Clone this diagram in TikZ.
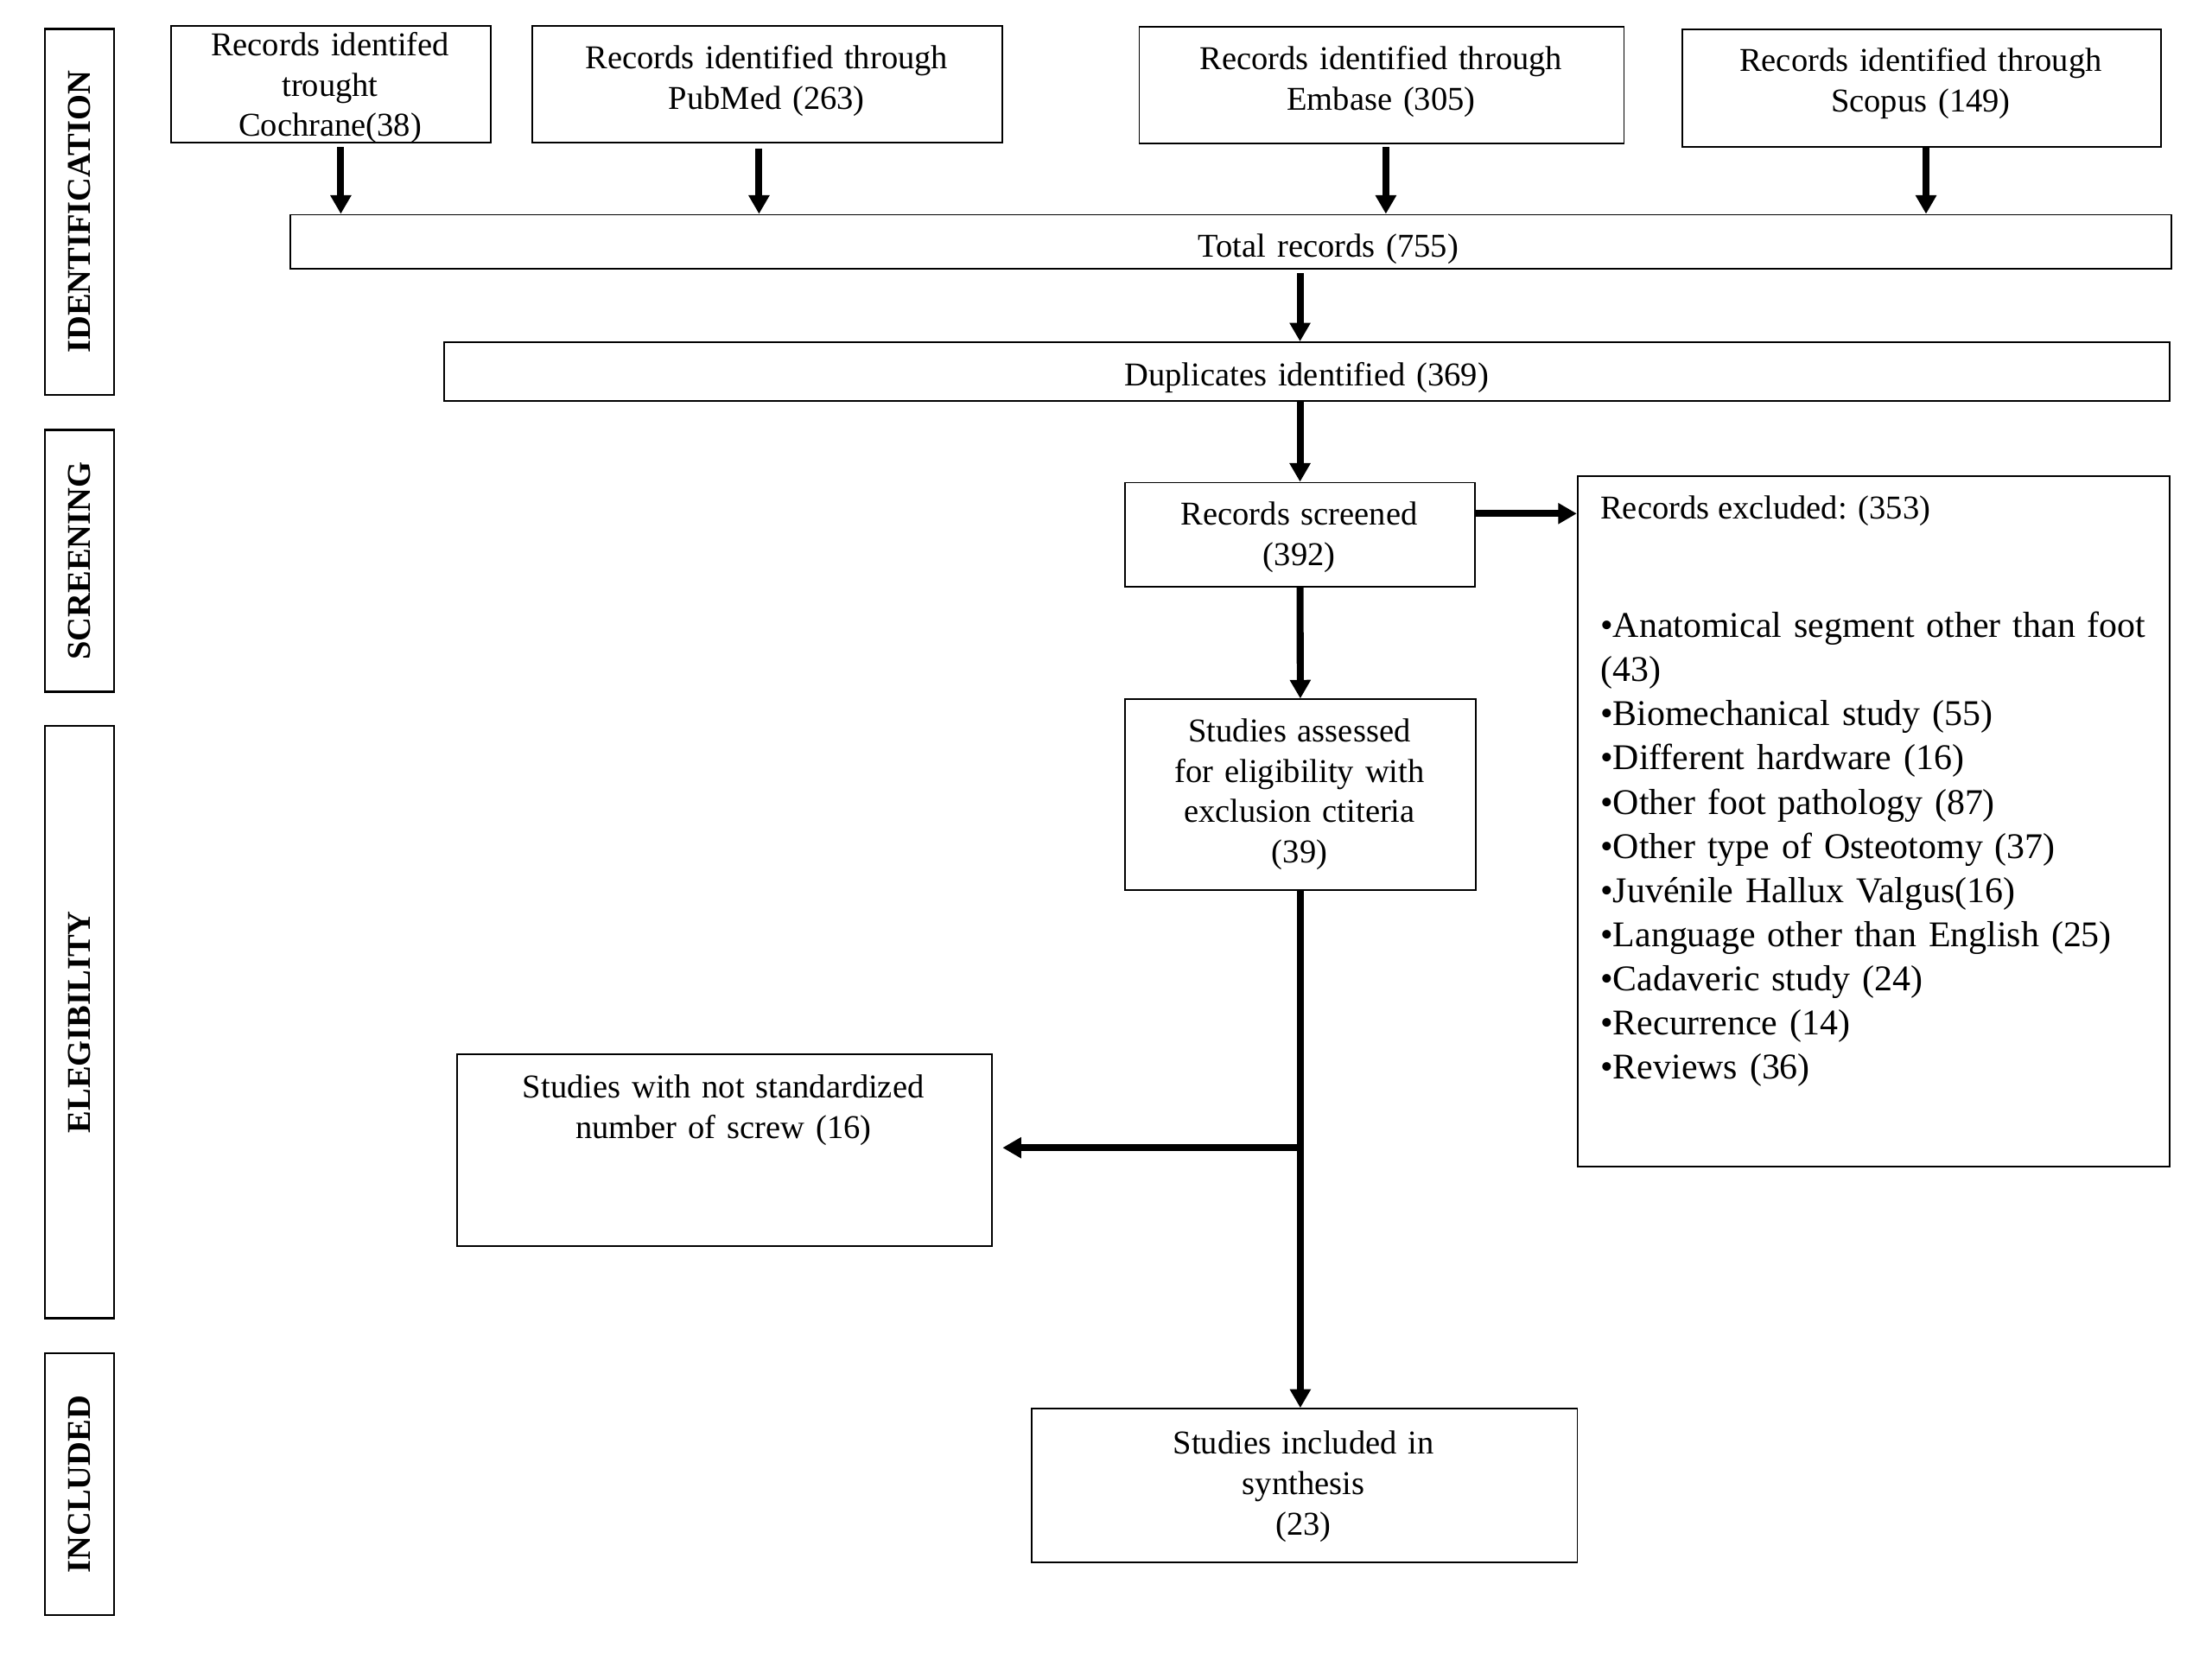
\documentclass[tikz,border=0pt]{standalone}
\usepackage{fontspec}
\setmainfont{Liberation Serif}
\usetikzlibrary{arrows.meta}
\newcommand{\mkbox}[6][box]{\node[#1, minimum width={(#5-#3)*0.4237pt}, minimum height={(#6-#4)*0.4237pt}] (#2) at (#3,#4) {};}
\begin{document}
\begin{tikzpicture}[x=0.4237pt,y=-0.4237pt,
  box/.style={draw, line width=0.5pt, rectangle, inner sep=0pt, anchor=north west},
  sidebox/.style={draw, line width=0.65pt, rectangle, inner sep=0pt, anchor=north west},
  sidetxt/.style={rotate=90, font=\fontsize{10}{12}\selectfont\bfseries, inner sep=0pt},
  txt/.style={font=\fontsize{10}{12.15}\selectfont, inner sep=0pt, align=center, text width=250pt, anchor=base},
  lefttxt/.style={font=\fontsize{10}{12.15}\selectfont, inner sep=0pt, anchor=base west},
  listtxt/.style={font=\fontsize{10.87}{13.26}\selectfont, inner sep=0pt, align=left, text width=175pt, anchor=base west},
  arr/.style={line width=2.1pt, -{Triangle[width=6pt,length=5.6pt]}},
  conn/.style={line width=2.1pt}]
\useasboundingbox (0,0) rectangle (1568,1176);

% side phase labels
\mkbox[sidebox]{sid1}{31}{19.8}{80}{279}
\mkbox[sidebox]{sid2}{31}{304}{80}{489.4}
\mkbox[sidebox]{sid3}{31}{513.7}{80}{933.7}
\mkbox[sidebox]{sid4}{31}{958.5}{80}{1144}
\node[sidetxt] (lab1) at (sid1.center) {IDENTIFICATION};
\node[sidetxt] (lab2) at (sid2.center) {SCREENING};
\node[sidetxt] (lab3) at (sid3.center) {ELEGIBILITY};
\node[sidetxt] (lab4) at (sid4.center) {INCLUDED};

% top sources
\mkbox{coch}{120.5}{18}{347.5}{100.4}
\mkbox{pub}{376.5}{17.6}{710}{100.5}
\mkbox{emb}{807}{18.2}{1150.6}{100.9}
\mkbox{sco}{1192}{20.2}{1531}{103.3}
\node[txt] (tcoch) at (234,39.4) {Records identifed\\trought\\Cochrane(38)};
\node[txt] (tpub) at (543.5,48.75) {Records identified through\\PubMed (263)};
\node[txt] (temb) at (979,49.2) {Records identified through\\Embase (305)};
\node[txt] (tsco) at (1361.5,50.7) {Records identified through\\Scopus (149)};

% total and duplicates
\mkbox{total}{205}{151.6}{1538.4}{190}
\node[txt] (ttotal) at (941.6,182.5) {Total records (755)};
\mkbox{dup}{314.5}{242}{1537.5}{283.5}
\node[txt] (tdup) at (926.2,273.3) {Duplicates identified (369)};

% screening
\mkbox{scr}{796.7}{341.5}{1045.2}{415.3}
\node[txt] (tscr) at (921,372.2) {Records screened\\(392)};
\mkbox{excl}{1117.7}{336.9}{1537.5}{826.5}
\node[lefttxt] (texh) at (1134,367.5) {Records excluded: (353)};
\node[listtxt] (texl) at (1134,451.8) {\textbullet Anatomical segment other than foot\\(43)\\\textbullet Biomechanical study (55)\\\textbullet Different hardware (16)\\\textbullet Other foot pathology (87)\\\textbullet Other type of Osteotomy (37)\\\textbullet Juvénile Hallux Valgus(16)\\\textbullet Language other than English (25)\\\textbullet Cadaveric study (24)\\\textbullet Recurrence (14)\\\textbullet Reviews (36)};

% eligibility
\mkbox{asm}{796.7}{495.1}{1045.6}{630.4}
\node[txt] (tasm) at (921.2,525.7) {Studies assessed\\for eligibility with\\exclusion ctiteria\\(39)};
\mkbox{nstd}{323.2}{746.7}{702.4}{882.5}
\node[txt] (tnstd) at (512.8,778) {Studies with not standardized\\number of screw (16)};

% included
\mkbox{incl}{730.5}{997.9}{1117.5}{1106.6}
\node[txt] (tincl) at (924,1030.5) {Studies included in\\synthesis\\(23)};

% connectors
\coordinate (s1) at ([shift={(7,2.6)}]coch.south);
\coordinate (s2) at ([shift={(-5.8,3.4)}]pub.south);
\coordinate (s3) at ([shift={(3,2.2)}]emb.south);
\coordinate (s4) at ([shift={(3.2,0.5)}]sco.south);
\draw[arr] (s1) -- (s1 |- total.north);
\draw[arr] (s2) -- (s2 |- total.north);
\draw[arr] (s3) -- (s3 |- total.north);
\draw[arr] (s4) -- (s4 |- total.north);
\coordinate (t0) at (scr.north |- total.south);
\coordinate (t1) at ([shift={(0,2.5)}]t0);
\draw[arr] (t1) -- (t1 |- dup.north);
\draw[arr] (scr.north |- dup.south) -- (scr.north);
\coordinate (se) at ([shift={(0,22.5)}]scr.north east);
\draw[arr] (se) -- (se -| excl.west);
\draw[arr] (scr.south) -- (asm.north);
\coordinate (bry) at (0,813.5);
\coordinate (br) at (asm.south |- bry);
\coordinate (ne0) at (nstd.east |- bry);
\coordinate (ne) at ([shift={(7.1,0)}]ne0);
\draw[arr] (asm.south) -- (asm.south |- incl.north);
\draw[arr] (br) -- (ne);
\end{tikzpicture}
\end{document}
